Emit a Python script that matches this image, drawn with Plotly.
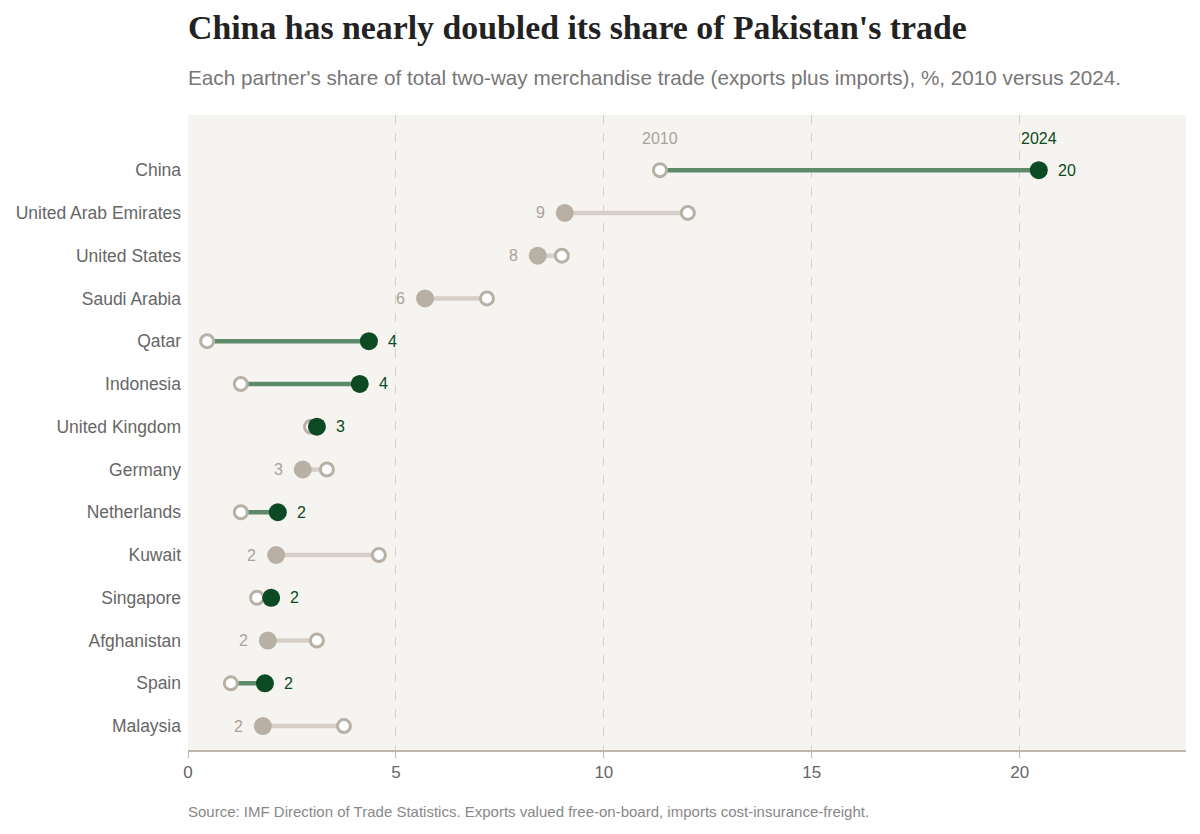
import plotly.graph_objects as go

# partners, top to bottom
partners = [
    "China", "United Arab Emirates", "United States", "Saudi Arabia", "Qatar",
    "Indonesia", "United Kingdom", "Germany", "Netherlands", "Kuwait",
    "Singapore", "Afghanistan", "Spain", "Malaysia",
]
share_2010 = [11.35, 12.02, 8.99, 7.19, 0.46, 1.27, 2.96, 3.34, 1.27, 4.59, 1.66, 3.10, 1.03, 3.75]
share_2024 = [20.46, 9.06, 8.41, 5.70, 4.35, 4.13, 3.10, 2.76, 2.16, 2.12, 2.00, 1.92, 1.85, 1.80]

DARK_GREEN = "#0b4a22"
LINE_GREEN = "#5e8a6a"
GREY_DOT = "#b8b0a5"
GREY_LINE = "#d5cfc7"
BG = "#f6f4f0"

fig = go.Figure()

# connecting lines, coloured by direction of change
for up in (True, False):
    xs, ys = [], []
    for p, a, b in zip(partners, share_2010, share_2024):
        if (b > a) == up:
            xs += [a, b, None]
            ys += [p, p, None]
    fig.add_trace(go.Scatter(
        x=xs, y=ys, mode="lines",
        line=dict(color=LINE_GREEN if up else GREY_LINE, width=4.5),
        hoverinfo="skip", showlegend=False,
    ))

# 2010 hollow markers
fig.add_trace(go.Scatter(
    x=share_2010, y=partners, mode="markers",
    marker=dict(size=13, color="white", line=dict(color=GREY_DOT, width=3)),
    showlegend=False, name="2010",
))

# 2024 filled markers
fig.add_trace(go.Scatter(
    x=share_2024, y=partners, mode="markers",
    marker=dict(size=18, color=[DARK_GREEN if b > a else GREY_DOT for a, b in zip(share_2010, share_2024)]),
    showlegend=False, name="2024",
))

annotations = []
for p, a, b in zip(partners, share_2010, share_2024):
    up = b > a
    annotations.append(dict(
        x=b, y=p, text=str(round(b)), showarrow=False,
        xanchor="left" if up else "right", xshift=17 if up else -18,
        font=dict(size=16, color=DARK_GREEN if up else "#aaa399"),
    ))

# year labels above the first row
annotations.append(dict(x=share_2010[0], y=partners[0], text="2010", showarrow=False,
                        yshift=32, font=dict(size=16, color="#aaa399")))
annotations.append(dict(x=share_2024[0], y=partners[0], text="2024", showarrow=False,
                        yshift=32, font=dict(size=16, color=DARK_GREEN)))

annotations.append(dict(
    xref="paper", yref="paper", x=0, y=1, xshift=-2, yshift=38, xanchor="left", yanchor="middle",
    text="Each partner's share of total two-way merchandise trade (exports plus imports), %, 2010 versus 2024.",
    showarrow=False, font=dict(size=20.7, color="#777777"),
))
annotations.append(dict(
    xref="paper", yref="paper", x=0, y=0, xshift=-2, yshift=-61, xanchor="left", yanchor="middle",
    text="Source: IMF Direction of Trade Statistics. Exports valued free-on-board, imports cost-insurance-freight.",
    showarrow=False, font=dict(size=15, color="#888888"),
))

fig.update_layout(
    width=1200, height=834,
    margin=dict(l=180, r=22, t=107, b=92),
    paper_bgcolor="white", plot_bgcolor=BG,
    font=dict(family="Liberation Sans, Arial, sans-serif", color="#555555"),
    title=dict(
        text="<b>China has nearly doubled its share of Pakistan's trade</b>",
        x=180 / 1200, xanchor="left", y=1 - 19 / 834, yanchor="middle",
        font=dict(family="Liberation Serif, Georgia, serif", size=33.8, color="#222222"),
    ),
    xaxis=dict(
        range=[0, 24], tickvals=[0, 5, 10, 15, 20], showgrid=True,
        gridcolor="#d6d2cb", griddash="dash", gridwidth=1,
        zeroline=False, showline=True, linecolor="#bdb7ad", linewidth=1.5,
        ticks="outside", ticklen=6, tickcolor="#bdb7ad",
        tickfont=dict(size=17, color="#666666"), automargin=False,
    ),
    yaxis=dict(
        categoryorder="array", categoryarray=partners,
        range=[13.56, -1.29], showgrid=False, zeroline=False,
        tickfont=dict(size=17.5, color="#666666"), ticklabelstandoff=6,
        automargin=False,
    ),
    annotations=annotations,
)

fig.write_html("out.html")
